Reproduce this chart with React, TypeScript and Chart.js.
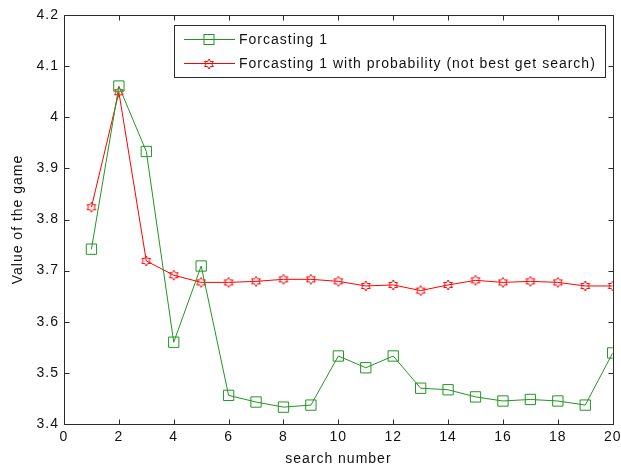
import React, { useEffect, useRef } from "react";
import { Chart, registerables } from "chart.js";

Chart.register(...registerables);

const searchNumbers = [1, 2, 3, 4, 5, 6, 7, 8, 9, 10, 11, 12, 13, 14, 15, 16, 17, 18, 19, 20];
const forcasting1 = [
  3.742, 4.061, 3.933, 3.56, 3.709, 3.456, 3.443, 3.433, 3.437, 3.533,
  3.51, 3.533, 3.47, 3.467, 3.453, 3.445, 3.448, 3.445, 3.437, 3.539,
];
const forcastingProb = [
  3.824, 4.049, 3.719, 3.691, 3.677, 3.677, 3.679, 3.683, 3.683, 3.679,
  3.67, 3.672, 3.661, 3.672, 3.681, 3.677, 3.679, 3.677, 3.67, 3.67,
];
const seriesLabels = [
  "Forcasting 1",
  "Forcasting 1 with probability (not best get search)",
];
const xAxisTitle = "search number";
const yAxisTitle = "Value of the game";

const GREEN = "rgb(34,150,34)";
const RED = "#ff0000";
const AXIS = "#2b2b2b";
const FONT_FAMILY = "'Liberation Sans', Arial, sans-serif";

function makeHexagram(color: string): HTMLCanvasElement {
  const c = document.createElement("canvas");
  c.width = 12;
  c.height = 12;
  const ctx = c.getContext("2d")!;
  const cx = 6;
  const cy = 6;
  const R = 5;
  const r = R / Math.sqrt(3);
  ctx.beginPath();
  for (let k = 0; k < 12; k++) {
    const ang = -Math.PI / 2 + (k * Math.PI) / 6;
    const rad = k % 2 === 0 ? R : r;
    const x = cx + rad * Math.cos(ang);
    const y = cy + rad * Math.sin(ang);
    if (k === 0) ctx.moveTo(x, y);
    else ctx.lineTo(x, y);
  }
  ctx.closePath();
  ctx.strokeStyle = color;
  ctx.lineWidth = 1;
  ctx.stroke();
  return c;
}

function setSpacing(chart: any) {
  try {
    (chart.ctx as any).letterSpacing = "1px";
  } catch (e) {}
}

const spacingPlugin = {
  id: "spacing",
  beforeUpdate(chart: any) { setSpacing(chart); },
  beforeLayout(chart: any) { setSpacing(chart); },
  beforeDraw(chart: any) { setSpacing(chart); },
};

const framePlugin = {
  id: "frame",
  afterDatasetsDraw(chart: any) {
    const ctx = chart.ctx;
    const { left, right, top, bottom } = chart.chartArea;
    const xs = chart.scales.x;
    const ys = chart.scales.y;
    const L = Math.round(left) + 0.5;
    const R = Math.round(right) + 0.5;
    const T = Math.round(top) + 0.5;
    const B = Math.round(bottom) + 0.5;
    const tl = 5;
    ctx.save();
    ctx.strokeStyle = AXIS;
    ctx.lineWidth = 1;
    ctx.beginPath();
    ctx.rect(L, T, R - L, B - T);
    xs.ticks.forEach((t: any) => {
      const px = Math.round(xs.getPixelForValue(t.value)) + 0.5;
      ctx.moveTo(px, B);
      ctx.lineTo(px, B - tl);
      ctx.moveTo(px, T);
      ctx.lineTo(px, T + tl);
    });
    ys.ticks.forEach((t: any) => {
      const py = Math.round(ys.getPixelForValue(t.value)) + 0.5;
      ctx.moveTo(L, py);
      ctx.lineTo(L + tl, py);
      ctx.moveTo(R, py);
      ctx.lineTo(R - tl, py);
    });
    ctx.stroke();
    ctx.restore();

    // legend
    const box = { x: 174.5, y: 25.5, w: 431, h: 52 };
    ctx.save();
    ctx.fillStyle = "#ffffff";
    ctx.fillRect(box.x, box.y, box.w, box.h);
    ctx.strokeStyle = AXIS;
    ctx.lineWidth = 1;
    ctx.strokeRect(box.x, box.y, box.w, box.h);
    const rows = [39, 63];
    chart.data.datasets.forEach((ds: any, i: number) => {
      const y = rows[i] + 0.5;
      ctx.strokeStyle = ds.borderColor;
      ctx.lineWidth = 1;
      ctx.beginPath();
      ctx.moveTo(184, y);
      ctx.lineTo(235, y);
      ctx.stroke();
      if (ds.pointStyle === "rect") {
        ctx.strokeRect(209 - 5, y - 5, 10, 10);
      } else {
        const img = ds.pointStyle as HTMLCanvasElement;
        ctx.drawImage(img, 209 - img.width / 2, Math.round(y - img.height / 2));
      }
      ctx.fillStyle = "#111";
      ctx.font = `14px ${FONT_FAMILY}`;
      (ctx as any).letterSpacing = "1px";
      ctx.textAlign = "left";
      ctx.textBaseline = "middle";
      ctx.fillText(ds.label, 239, rows[i] + 1);
    });
    ctx.restore();
  },
};

export default function App() {
  const ref = useRef<HTMLCanvasElement | null>(null);
  useEffect(() => {
    if (!ref.current) return;
    const hex = makeHexagram(RED);
    const chart = new Chart(ref.current, {
      type: "line",
      data: {
        datasets: [
          {
            label: seriesLabels[0],
            data: searchNumbers.map((x, i) => ({ x, y: forcasting1[i] })),
            borderColor: GREEN,
            backgroundColor: "rgba(0,0,0,0)",
            borderWidth: 1,
            pointStyle: "rect",
            pointRadius: 7.3,
            pointBorderWidth: 1,
            pointBorderColor: GREEN,
            pointBackgroundColor: "rgba(0,0,0,0)",
            tension: 0,
          },
          {
            label: seriesLabels[1],
            data: searchNumbers.map((x, i) => ({ x, y: forcastingProb[i] })),
            borderColor: RED,
            backgroundColor: "rgba(0,0,0,0)",
            borderWidth: 1,
            pointStyle: hex as any,
            pointRadius: 5,
            pointBorderColor: RED,
            pointBackgroundColor: "rgba(0,0,0,0)",
            tension: 0,
          },
        ],
      },
      options: {
        animation: false,
        responsive: false,
        events: [],
        layout: { padding: { top: 15, right: 8, left: 0, bottom: 0 } },
        plugins: {
          legend: { display: false },
          tooltip: { enabled: false },
        },
        scales: {
          x: {
            type: "linear",
            min: 0,
            max: 20,
            grid: { display: false, drawTicks: false },
            border: { display: false },
            ticks: {
              stepSize: 2,
              padding: 5,
              color: "#111",
              font: { family: FONT_FAMILY, size: 14 },
              maxRotation: 0,
            },
            title: {
              display: true,
              text: xAxisTitle,
              color: "#111",
              font: { family: FONT_FAMILY, size: 14 },
              padding: { top: 0, bottom: 0 },
            },
            afterFit: (scale: any) => {
              scale.height = 44;
              scale.paddingRight = 0;
              scale.paddingLeft = 0;
            },
          },
          y: {
            type: "linear",
            min: 3.4,
            max: 4.2,
            grid: { display: false, drawTicks: false },
            border: { display: false },
            ticks: {
              stepSize: 0.1,
              padding: 5,
              color: "#111",
              font: { family: FONT_FAMILY, size: 14 },
              callback: (v: any) => String(parseFloat(Number(v).toFixed(1))),
            },
            title: {
              display: true,
              text: yAxisTitle,
              color: "#111",
              font: { family: FONT_FAMILY, size: 14 },
              padding: { top: 10, bottom: 0 },
            },
            afterFit: (scale: any) => {
              scale.width = 64;
              scale.paddingTop = 0;
              scale.paddingBottom = 0;
            },
          },
        },
      },
      plugins: [spacingPlugin, framePlugin],
    });
    return () => chart.destroy();
  }, []);
  return (
    <canvas
      ref={ref}
      width={621}
      height={468}
      style={{ position: "absolute", left: 0, top: 0, display: "block" }}
    />
  );
}
